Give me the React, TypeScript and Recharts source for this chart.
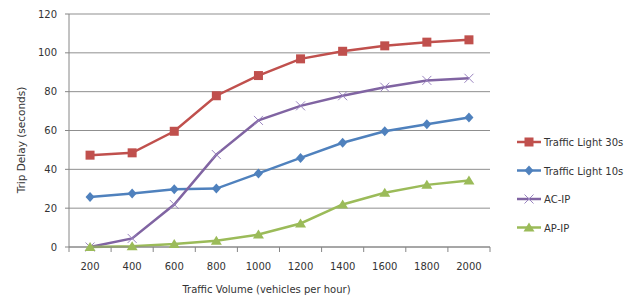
import { LineChart, Line, XAxis, YAxis, CartesianGrid, Legend } from 'recharts'

const volumes = [200, 400, 600, 800, 1000, 1200, 1400, 1600, 1800, 2000]
const light30 = [47.3, 48.5, 59.6, 77.9, 88.3, 96.9, 100.8, 103.6, 105.5, 106.7]
const light10 = [25.7, 27.6, 29.8, 30.1, 37.9, 45.9, 53.7, 59.6, 63.2, 66.7]
const acIp = [0, 4.4, 21.9, 47.6, 65.2, 72.7, 77.9, 82.3, 85.8, 86.9]
const apIp = [0, 0.4, 1.5, 3.2, 6.4, 12.1, 21.9, 27.9, 32.0, 34.2]
const yTicks = [0, 20, 40, 60, 80, 100, 120]
const xTicks = [100, 200, 300, 400, 500, 600, 700, 800, 900, 1000, 1100, 1200, 1300, 1400, 1500, 1600, 1700, 1800, 1900, 2000, 2100]
const legendOrder = ['light30', 'light10', 'acIp', 'apIp']

const data = volumes.map((v, i) => ({
  volume: v,
  light30: light30[i],
  light10: light10[i],
  acIp: acIp[i],
  apIp: apIp[i]
}))

const COLORS: Record<string, string> = {
  light30: '#C0504D',
  light10: '#4F81BD',
  acIp: '#8064A2',
  apIp: '#9BBB59'
}

const FONT = '"DejaVu Sans", sans-serif'

function Marker ({ kind, cx, cy }: { kind: string, cx: number, cy: number }) {
  if (kind === 'light30') {
    return <rect x={cx - 4.5} y={cy - 4.5} width={9} height={9} fill={COLORS.light30} />
  }
  if (kind === 'light10') {
    return <polygon points={`${cx},${cy - 5} ${cx + 4.5},${cy} ${cx},${cy + 5} ${cx - 4.5},${cy}`} fill={COLORS.light10} />
  }
  if (kind === 'acIp') {
    return (
      <g stroke='#9a84c0' strokeWidth={1}>
        <line x1={cx - 4.5} y1={cy - 4.5} x2={cx + 4.5} y2={cy + 4.5} />
        <line x1={cx - 4.5} y1={cy + 4.5} x2={cx + 4.5} y2={cy - 4.5} />
      </g>
    )
  }
  return <polygon points={`${cx},${cy - 5} ${cx + 5.5},${cy + 4} ${cx - 5.5},${cy + 4}`} fill={COLORS.apIp} />
}

const makeDot = (kind: string) => (props: any) => (
  <Marker key={`${kind}-${props.index}`} kind={kind} cx={props.cx} cy={props.cy} />
)

function XTick (props: any) {
  const { x, y, payload } = props
  const v = payload.value
  if (v % 200 === 100) {
    return <line x1={x} x2={x} y1={y} y2={y + 5} stroke='#868686' />
  }
  return (
    <text x={x} y={y + 22.5} textAnchor='middle' fontSize={10} fontFamily={FONT} fill='#333'>
      {v}
    </text>
  )
}

function LegendBox (props: any) {
  const items = [...(props.payload || [])].sort(
    (a: any, b: any) => legendOrder.indexOf(a.dataKey) - legendOrder.indexOf(b.dataKey)
  )
  return (
    <svg width={120} height={120}>
      {items.map((p: any, i: number) => {
        const y = 8 + i * 28.5
        return (
          <g key={p.dataKey}>
            <line x1={2} x2={26} y1={y} y2={y} stroke={COLORS[p.dataKey]} strokeWidth={2.5} />
            <Marker kind={p.dataKey} cx={14} cy={y} />
            <text x={29} y={y + 4} fontSize={10} fontFamily={FONT} fill='#333'>{p.value}</text>
          </g>
        )
      })}
    </svg>
  )
}

const YTitle = () => (
  <text
    x={21}
    y={140}
    transform='rotate(-90, 21, 140)'
    textAnchor='middle'
    dominantBaseline='central'
    fontSize={10.5}
    fontFamily={FONT}
    fill='#333'
  >
    Trip Delay (seconds)
  </text>
)

export default function App () {
  return (
    <div style={{ position: 'absolute', left: 0, top: 0, width: 636, height: 297, background: '#fff' }}>
      <LineChart width={636} height={297} data={data} margin={{ top: 14, right: 26, left: 0, bottom: 0 }}>
        <CartesianGrid vertical={false} stroke='#8f8f8f' />
        <XAxis
          dataKey='volume'
          type='number'
          domain={[100, 2100]}
          ticks={xTicks}
          interval={0}
          tick={<XTick />}
          tickLine={false}
          tickSize={0}
          tickMargin={0}
          height={50}
          stroke='#868686'
          label={{ value: 'Traffic Volume (vehicles per hour)', position: 'insideBottom', offset: 4, dx: -13, fontSize: 10, fontFamily: FONT, fill: '#333' }}
        />
        <YAxis
          domain={[0, 120]}
          ticks={yTicks}
          width={69}
          interval={0}
          tickSize={4}
          tickMargin={8}
          stroke='#868686'
          tick={{ fontSize: 10, fontFamily: FONT, fill: '#333' }}
          label={{ content: <YTitle /> }}
        />
        <Legend
          layout='vertical'
          align='right'
          verticalAlign='top'
          content={<LegendBox />}
          wrapperStyle={{ position: 'absolute', left: 515, top: 134, width: 120 }}
        />
        <Line dataKey='light30' name='Traffic Light 30s' stroke={COLORS.light30} strokeWidth={2.5} dot={makeDot('light30')} activeDot={false} isAnimationActive={false} />
        <Line dataKey='light10' name='Traffic Light 10s' stroke={COLORS.light10} strokeWidth={2.5} dot={makeDot('light10')} activeDot={false} isAnimationActive={false} />
        <Line dataKey='acIp' name='AC-IP' stroke={COLORS.acIp} strokeWidth={2.5} dot={makeDot('acIp')} activeDot={false} isAnimationActive={false} />
        <Line dataKey='apIp' name='AP-IP' stroke={COLORS.apIp} strokeWidth={2.5} dot={makeDot('apIp')} activeDot={false} isAnimationActive={false} />
      </LineChart>
    </div>
  )
}
